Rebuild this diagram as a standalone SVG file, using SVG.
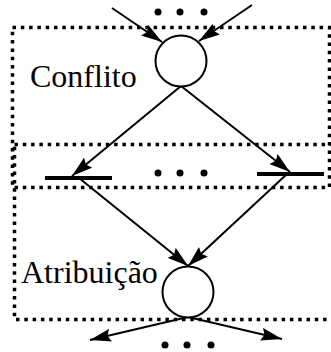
<svg xmlns="http://www.w3.org/2000/svg" width="331" height="352" viewBox="0 0 331 352">
<defs>
<marker id="ah" viewBox="0 0 21 13" refX="21" refY="6.5" markerWidth="21" markerHeight="13" markerUnits="userSpaceOnUse" orient="auto">
<path d="M0,0 L21,6.5 L0,13 L3,6.5 z" fill="#000"/>
</marker>
<style>
.box{fill:none;stroke:#000;stroke-width:3.5;stroke-dasharray:3.5 4.8}
.edge{fill:none;stroke:#000;stroke-width:2;marker-end:url(#ah)}
.place{fill:#fff;stroke:#000;stroke-width:2}
.bar{stroke:#000;stroke-width:4}
.dot{fill:#000}
.lbl{font-family:"Liberation Serif","Times New Roman",serif;font-size:32px;fill:#000}
</style>
</defs>
<g id="regions">
<rect class="box" x="12.5" y="27.5" width="317" height="160"/>
<rect class="box" x="14.5" y="144.5" width="330" height="175"/>
</g>
<g id="connectors">
<line class="edge" x1="112" y1="8" x2="162" y2="42"/>
<line class="edge" x1="252" y1="5" x2="199" y2="41"/>
<line class="edge" x1="181" y1="86" x2="72" y2="176"/>
<line class="edge" x1="181" y1="86" x2="290" y2="172"/>
<line class="edge" x1="79" y1="178" x2="188" y2="266"/>
<line class="edge" x1="287" y1="174" x2="188" y2="266"/>
<line class="edge" x1="188" y1="317" x2="90" y2="340"/>
<line class="edge" x1="188" y1="317" x2="282" y2="339"/>
</g>
<g id="dots-top"><circle class="dot" cx="158" cy="12" r="3.5"/><circle class="dot" cx="180" cy="12" r="3.5"/><circle class="dot" cx="204" cy="12" r="3.5"/></g>
<g id="conflito-place"><circle class="place" cx="181" cy="61" r="25.5"/></g>
<g id="conflito-label"><text class="lbl" x="30" y="87">Conflito</text></g>
<g id="t-left"><line class="bar" x1="45" y1="178" x2="112" y2="178"/></g>
<g id="dots-mid"><circle class="dot" cx="158" cy="173" r="3.5"/><circle class="dot" cx="180" cy="173" r="3.5"/><circle class="dot" cx="204" cy="173" r="3.5"/></g>
<g id="t-right"><line class="bar" x1="257" y1="174" x2="324" y2="174"/></g>
<g id="atribuicao-place"><circle class="place" cx="188" cy="292" r="25.5"/></g>
<g id="atribuicao-label"><text class="lbl" x="21" y="283">Atribuição</text></g>
<g id="dots-bottom"><circle class="dot" cx="165" cy="345" r="3.5"/><circle class="dot" cx="187" cy="345" r="3.5"/><circle class="dot" cx="211" cy="345" r="3.5"/></g>
</svg>
